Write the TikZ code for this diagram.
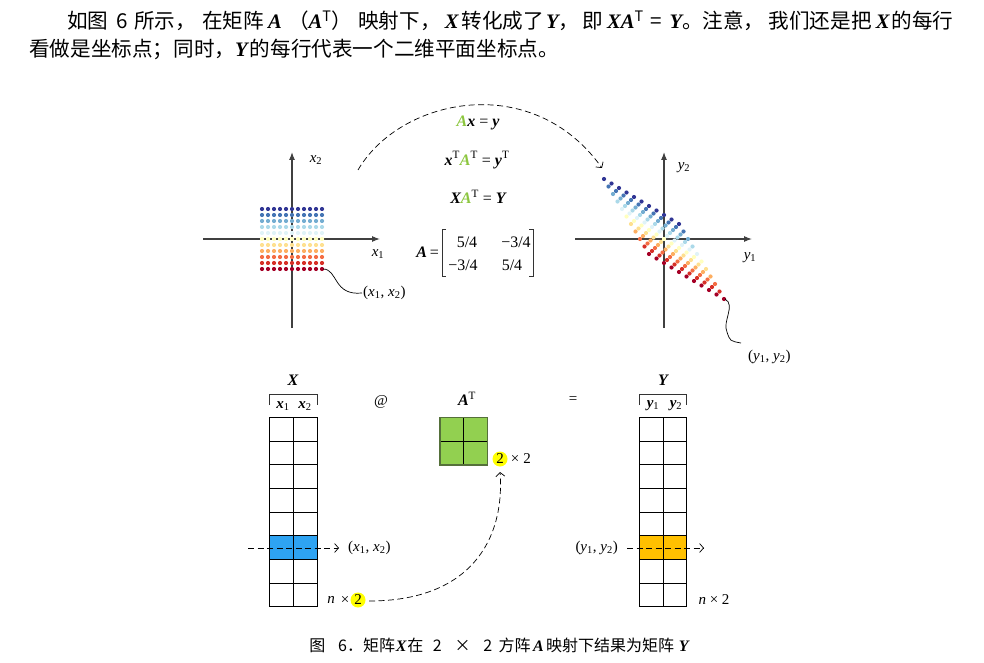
\documentclass[tikz,border=0pt]{standalone}
\usepackage{fontspec}
\setmainfont{Liberation Serif}
\newfontfamily\cjk{Noto Sans CJK SC}
\usetikzlibrary{arrows.meta}
\newcommand\vb[1]{{\rmfamily\bfseries\itshape #1}}
\newcommand\vi[1]{{\rmfamily\itshape #1}}
\definecolor{c0}{HTML}{A50026}
\definecolor{c1}{HTML}{D73027}
\definecolor{c2}{HTML}{F46D43}
\definecolor{c3}{HTML}{FDAE61}
\definecolor{c4}{HTML}{FEE090}
\definecolor{c5}{HTML}{FFFFBF}
\definecolor{c6}{HTML}{E0F3F8}
\definecolor{c7}{HTML}{ABD9E9}
\definecolor{c8}{HTML}{74ADD1}
\definecolor{c9}{HTML}{4575B4}
\definecolor{c10}{HTML}{313695}
\definecolor{agreen}{HTML}{92D050}
\definecolor{aedge}{HTML}{55703A}
\definecolor{xblue}{HTML}{2EA3F2}
\definecolor{yorange}{HTML}{FFC000}
\definecolor{hiyellow}{HTML}{FFFF00}
\definecolor{lgreen}{HTML}{8CC63F}
\begin{document}
\begin{tikzpicture}[x=1pt,y=-1pt,
  axis/.style={draw=black!75, line width=1.1pt, -{Latex[length=8pt,width=6pt]}},
  dcon/.style={draw, line width=0.7pt, dash pattern=on 6pt off 3.5pt, -{Straight Barb[length=4pt,width=9pt]}},
  wig/.style={draw, line width=0.7pt},
  lab/.style={inner sep=0pt, font=\fontsize{15}{18}\selectfont},
  eq/.style={inner sep=0pt, font=\fontsize{16}{19}\selectfont},
  cell/.style={draw=black, line width=0.9pt},
  brk/.style={draw=black!80, line width=0.9pt}
]
\useasboundingbox (0,0) rectangle (984,663);

% ---------- top text ----------
\node[anchor=base west, inner sep=0pt, font=\fontsize{20.6}{24}\selectfont\cjk] (t1) at (67,29)
 {如图\hspace{0.4em}6\hspace{0.3em}所示，\hspace{0.3em}在矩阵\hspace{0.2em}\vb{A}\hspace{0.3em}（\vb{A}\textsuperscript{T}）\hspace{0.3em}映射下，\hspace{0.2em}\vb{X}\hspace{0.15em}转化成了\hspace{0.1em}\vb{Y}，\hspace{0.15em}即\hspace{0.2em}\vb{XA}\textsuperscript{T}\hspace{0.35em}=\hspace{0.35em}\vb{Y}。注意，\hspace{0.2em}我们还是把\hspace{0.2em}\vb{X}\hspace{0.1em}的每行};
\node[anchor=base west, inner sep=0pt, font=\fontsize{20.6}{24}\selectfont\cjk] (t2) at (29,57)
 {看做是坐标点；同时，\vb{Y}\hspace{0.1em}的每行代表一个二维平面坐标点。};

% ---------- left plot ----------
\coordinate (lo) at (292,239);
\coordinate (lxa) at (203,239); \coordinate (lxb) at (380,239);
\coordinate (lya) at (292,328); \coordinate (lyb) at (292,152);
\draw[axis] (lxa) -- (lxb);
\draw[axis] (lya) -- (lyb);
\node[lab] (lx1) at (378,254) {\vi{x}\textsubscript{1}};
\node[lab] (lx2) at (316,160) {\vi{x}\textsubscript{2}};

% ---------- right plot ----------
\coordinate (rxa) at (575,239); \coordinate (rxb) at (752,239);
\coordinate (rya) at (664,328); \coordinate (ryb) at (664,152);
\draw[axis] (rxa) -- (rxb);
\draw[axis] (rya) -- (ryb);
\node[lab] (ry1) at (750,258) {\vi{y}\textsubscript{1}};
\node[lab] (ry2) at (684,168) {\vi{y}\textsubscript{2}};

% dots
\foreach \j in {0,...,10}{
  \foreach \i in {0,...,10}{
    \pgfmathsetmacro\u{-1+0.2*\i}
    \pgfmathsetmacro\v{-1+0.2*\j}
    \fill[color=c\j] ({292+30*\u},{239-30*\v}) circle (2.1);
    \fill[color=c\j] ({664+30*(1.25*\u-0.75*\v)},{239-30*(-0.75*\u+1.25*\v)}) circle (2.1);
  }
}

% labels with wiggles
\coordinate (ldot) at (323,269);
\node[lab, anchor=west] (lpt) at (363,293) {(\vi{x}\textsubscript{1}, \vi{x}\textsubscript{2})};
\draw[wig] (ldot) .. controls (338,269) and (333,296) .. ([xshift=-1pt]lpt.west);
\coordinate (rdot) at (725,299);
\node[lab, anchor=west] (rpt) at (748,357) {(\vi{y}\textsubscript{1}, \vi{y}\textsubscript{2})};
\coordinate (rmid) at (727,332);
\draw[wig] (rdot) .. controls (736,305) and (722,322) .. (rmid) .. controls (730,341) .. (741,343);

% big arc
\coordinate (arcA) at (358,170);
\coordinate (arcB) at (602,168);
\draw[dcon] (arcA) .. controls (400,98) and (532,70) .. (arcB);

% equations
\node[eq] (e1) at (478,123) {\vb{\textcolor{lgreen}{A}x} = \vb{y}};
\node[eq] (e2) at (477,160) {\vb{x}\textsuperscript{T}\vb{\textcolor{lgreen}{A}}\textsuperscript{T} = \vb{y}\textsuperscript{T}};
\node[eq] (e3) at (478,197) {\vb{X\textcolor{lgreen}{A}}\textsuperscript{T} = \vb{Y}};
\node[eq, anchor=east] (eA) at (439,252) {\vb{A}\,=};
\draw[brk] (446,229) -- (442,229) -- (442,276) -- (446,276);
\draw[brk] (529,229) -- (533,229) -- (533,276) -- (529,276);
\node[eq] (m11) at (467,242) {5/4};
\node[eq] (m12) at (516,242) {−3/4};
\node[eq] (m21) at (463,265) {−3/4};
\node[eq] (m22) at (512,265) {5/4};

% ---------- bottom: X ----------
\fill[xblue] (269.3,536.0) rectangle (317.3,559.7);
\foreach \k in {0,...,8}{
  \draw[cell] (269.3,{417.3+23.67*\k}) -- (317.3,{417.3+23.67*\k});
}
\draw[cell] (269.3,417.3) -- (269.3,606.7);
\draw[cell] (293.3,417.3) -- (293.3,606.7);
\draw[cell] (317.3,417.3) -- (317.3,606.7);
\node[eq] (Xh) at (293,380) {\vb{X}};
\draw[brk] (269.3,405) -- (269.3,394) -- (317.3,394) -- (317.3,405);
\node[lab] (xh1) at (283,406) {\vb{x}\textsubscript{1}};
\node[lab] (xh2) at (305,406) {\vb{x}\textsubscript{2}};
\coordinate (xrA) at (248,548);
\coordinate (xrB) at (339,548);
\draw[dcon] (xrA) -- (xrB);
\node[lab, anchor=west] (xrl) at (348,548) {(\vi{x}\textsubscript{1}, \vi{x}\textsubscript{2})};
\fill[hiyellow] (358,600) circle (7.5);
\node[lab] (xn) at (331,600) {\vi{n}};
\node[lab] (xt) at (345,600) {×};
\node[lab] (x2) at (358,600) {2};

\node[lab] (at) at (381,402) {@};

% ---------- A^T ----------
\node[eq] (ATh) at (467,399) {\vb{A}\textsuperscript{T}};
\fill[agreen] (440,417.7) rectangle (487.3,465);
\draw[cell] (463.7,417.7) -- (463.7,465);
\draw[cell] (440,441.3) -- (487.3,441.3);
\draw[draw=aedge, line width=1.3pt] (440,417.7) rectangle (487.3,465);
\fill[hiyellow] (500,459) circle (7.5);
\node[lab] (a2a) at (500,459) {2};
\node[lab] (a2t) at (515,459) {×};
\node[lab] (a2b) at (527,459) {2};
\coordinate (upA) at (369,601);
\draw[dcon] (upA) .. controls (470,601) and (505,540) .. (a2a.south |- 0,472);

\node[lab] (eqs) at (573,400) {=};

% ---------- Y ----------
\fill[yorange] (639.3,536.0) rectangle (686.7,559.7);
\foreach \k in {0,...,8}{
  \draw[cell] (639.3,{417.3+23.67*\k}) -- (686.7,{417.3+23.67*\k});
}
\draw[cell] (639.3,417.3) -- (639.3,606.7);
\draw[cell] (663.3,417.3) -- (663.3,606.7);
\draw[cell] (686.7,417.3) -- (686.7,606.7);
\node[eq] (Yh) at (663,380) {\vb{Y}};
\draw[brk] (639.3,405) -- (639.3,394) -- (686.7,394) -- (686.7,405);
\node[lab] (yh1) at (653,406) {\vb{y}\textsubscript{1}};
\node[lab] (yh2) at (676,406) {\vb{y}\textsubscript{2}};
\node[lab, anchor=east] (yrl) at (618,548) {(\vi{y}\textsubscript{1}, \vi{y}\textsubscript{2})};
\coordinate (yrA) at (627,548);
\coordinate (yrB) at (704,548);
\draw[dcon] (yrA) -- (yrB);
\node[lab] (yn) at (714,600) {\vi{n} × 2};

% ---------- caption ----------
\node[anchor=base, inner sep=0pt, font=\fontsize{16}{18}\selectfont\cjk] (cap) at (499,651)
 {图\hspace{0.8em}6．矩阵\hspace{0.05em}\vb{X}\hspace{0.05em}在\hspace{0.6em}2\hspace{0.8em}×\hspace{0.8em}2\hspace{0.4em}方阵\hspace{0.15em}\vb{A}\hspace{0.15em}映射下结果为矩阵\hspace{0.3em}\vb{Y}};
\end{tikzpicture}
\end{document}
